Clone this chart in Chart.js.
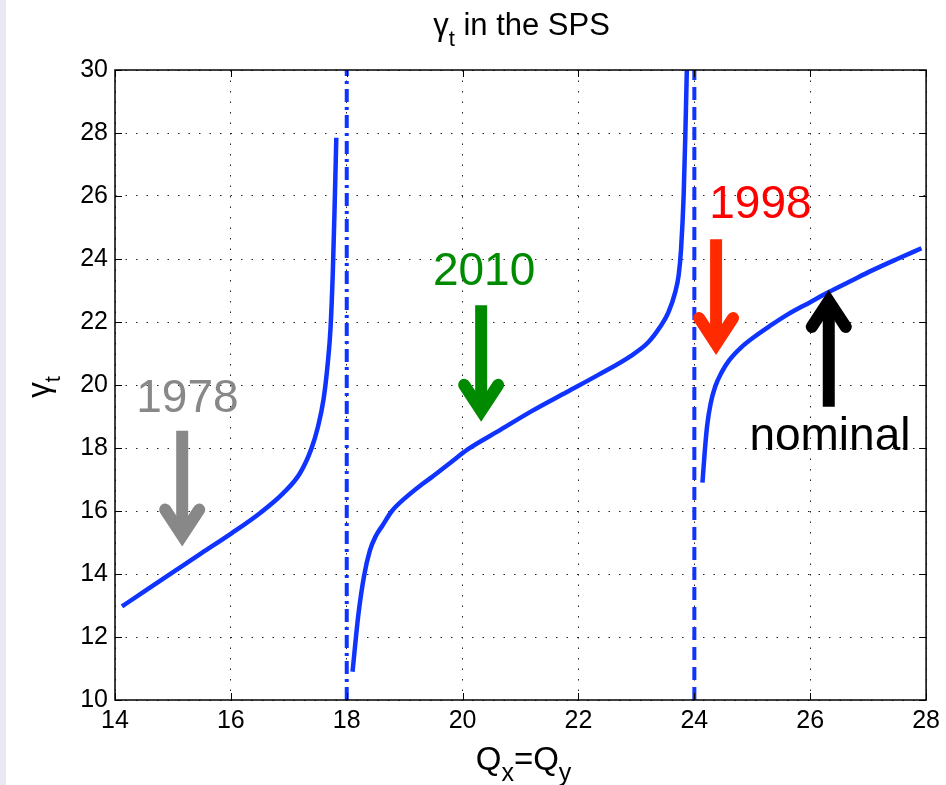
<!DOCTYPE html>
<html><head><meta charset="utf-8">
<script src="https://cdn.jsdelivr.net/npm/chart.js@4/dist/chart.umd.min.js"></script>
<style>html,body{margin:0;padding:0;background:#fff;overflow:hidden}canvas{display:block}</style>
</head><body>
<canvas id="c" width="946" height="785"></canvas>
<script>
// ---- data ----
const branch1Q = [14.12, 14.5, 15.06, 15.5, 16.01, 16.5, 16.9, 17.19, 17.39, 17.5, 17.6, 17.67, 17.72, 17.76, 17.79, 17.82];
const branch1G = [12.97, 13.44, 14.13, 14.67, 15.29, 15.93, 16.56, 17.19, 17.98, 18.65, 19.55, 20.65, 21.8, 23.6, 25.6, 27.85];
const branch2Q = [18.10, 18.2, 18.3, 18.4, 18.5, 18.62, 18.78, 19.0, 19.3, 19.5, 19.8, 20.1, 20.6, 21.2, 21.8, 22.35, 22.9, 23.2, 23.41, 23.55, 23.67, 23.73, 23.77, 23.815, 23.845, 23.87];
const branch2G = [10.9, 12.7, 13.95, 14.75, 15.2, 15.55, 16.0, 16.4, 16.85, 17.12, 17.55, 17.97, 18.52, 19.18, 19.78, 20.33, 20.92, 21.35, 21.85, 22.3, 22.95, 23.5, 24.3, 26.0, 28.0, 30.0];
const branch3Q = [24.14, 24.18, 24.22, 24.28, 24.36, 24.47, 24.6, 24.8, 25.05, 25.3, 25.62, 26.0, 26.32, 26.7, 27.06, 27.5, 27.92];
const branch3G = [16.9, 17.9, 18.7, 19.4, 19.95, 20.4, 20.78, 21.18, 21.55, 21.87, 22.25, 22.63, 22.95, 23.3, 23.63, 24.0, 24.34];
const resonanceQ = [18, 24];
const xTickValues = [14, 16, 18, 20, 22, 24, 26, 28];
const yTickValues = [10, 12, 14, 16, 18, 20, 22, 24, 26, 28, 30];

// annotations (data units)
const noteLabels = ['1978', '2010', '1998', 'nominal'];
const noteLabelQ = [15.25, 20.37, 25.14, 26.34];
const noteLabelG = [19.15, 23.17, 25.29, 17.94];
const arrowQ = [15.16, 20.32, 24.375, 26.32];
const arrowTailG = [18.55, 22.53, 24.63, 19.31];
const arrowTipG = [14.87, 18.83, 20.95, 23.02];

// ---- styles ----
const FONT = '"Liberation Sans", Arial, Helvetica, sans-serif';
const BLUE = '#1034ff';
const noteTextColors = ['#888888', '#008a00', '#ff0000', '#000000'];
const noteArrowColors = ['#888888', '#008a00', '#ff2a00', '#000000'];
const resonanceDash = [[13, 5, 3, 5], [13, 7]];

function pts(xs, ys) { return xs.map((x, i) => ({ x: x, y: ys[i] })); }

const datasets = [
  { data: pts(branch1Q, branch1G) },
  { data: pts(branch2Q, branch2G) },
  { data: pts(branch3Q, branch3G) }
].map(d => Object.assign(d, {
  showLine: true, borderColor: BLUE, borderWidth: 4.5, pointRadius: 0,
  cubicInterpolationMode: 'monotone', fill: false, borderJoinStyle: 'round', borderCapStyle: 'butt'
}));
resonanceQ.forEach((q, i) => datasets.push({
  data: [{ x: q, y: yTickValues[0] }, { x: q, y: yTickValues[yTickValues.length - 1] }],
  showLine: true, borderColor: BLUE, borderWidth: 4, pointRadius: 0,
  borderDash: resonanceDash[i], fill: false
}));

const decor = {
  id: 'decor',
  beforeDraw(chart) {
    const ctx = chart.ctx;
    ctx.save();
    ctx.fillStyle = '#ffffff';
    ctx.fillRect(0, 0, chart.width, chart.height);
    ctx.fillStyle = '#e9e9f3';
    ctx.fillRect(0, 0, 6, chart.height);
    ctx.restore();
  },
  afterDatasetsDraw(chart) {
    const ctx = chart.ctx;
    const xs = chart.scales.x, ys = chart.scales.y;
    const a = chart.chartArea;
    ctx.save();
    // inner tick marks
    ctx.strokeStyle = '#000';
    ctx.lineWidth = 1;
    xTickValues.forEach(v => {
      const p = Math.round(xs.getPixelForValue(v)) + 0.5;
      ctx.beginPath();
      ctx.moveTo(p, a.bottom); ctx.lineTo(p, a.bottom - 7);
      ctx.moveTo(p, a.top); ctx.lineTo(p, a.top + 7);
      ctx.stroke();
    });
    yTickValues.forEach(v => {
      const p = Math.round(ys.getPixelForValue(v)) + 0.5;
      ctx.beginPath();
      ctx.moveTo(a.left, p); ctx.lineTo(a.left + 7, p);
      ctx.moveTo(a.right, p); ctx.lineTo(a.right - 7, p);
      ctx.stroke();
    });
    // box
    ctx.lineWidth = 1.5;
    ctx.strokeRect(a.left, a.top, a.right - a.left, a.bottom - a.top);

    // arrows
    for (let i = 0; i < arrowQ.length; i++) {
      const x = xs.getPixelForValue(arrowQ[i]);
      const yT = ys.getPixelForValue(arrowTailG[i]);
      const yP = ys.getPixelForValue(arrowTipG[i]);
      const dir = yP > yT ? 1 : -1;
      const vertex = yP - dir * 11;
      ctx.strokeStyle = noteArrowColors[i];
      ctx.lineWidth = 12;
      ctx.lineCap = 'butt';
      ctx.beginPath();
      ctx.moveTo(x, yT);
      ctx.lineTo(x, vertex - dir * 4);
      ctx.stroke();
      ctx.lineCap = 'round';
      ctx.lineJoin = 'miter';
      ctx.miterLimit = 10;
      ctx.beginPath();
      ctx.moveTo(x - 17, vertex - dir * 26);
      ctx.lineTo(x, vertex);
      ctx.lineTo(x + 17, vertex - dir * 26);
      ctx.stroke();
    }
    // labels
    ctx.font = '46px ' + FONT;
    ctx.textAlign = 'center';
    ctx.textBaseline = 'alphabetic';
    for (let i = 0; i < noteLabels.length; i++) {
      ctx.fillStyle = noteTextColors[i];
      ctx.fillText(noteLabels[i], xs.getPixelForValue(noteLabelQ[i]), ys.getPixelForValue(noteLabelG[i]));
    }

    // title  γ_t in the SPS
    ctx.fillStyle = '#000';
    const mid = (a.left + a.right) / 2;
    drawRich(ctx, [['γ', 31, 0], ['t', 22, 11], [' in the SPS', 31, 0]], mid + 1, 35);
    // x label Q_x=Q_y
    drawRich(ctx, [['Q', 33, 0], ['x', 25, 11], ['=Q', 33, 0], ['y', 25, 11]], mid + 3, 770);
    // y label γ_t (rotated)
    ctx.save();
    ctx.translate(49, (a.top + a.bottom) / 2 + 2);
    ctx.rotate(-Math.PI / 2);
    drawRich(ctx, [['γ', 31, 0], ['t', 22, 11]], 0, 0);
    ctx.restore();
    ctx.restore();
  }
};

function drawRich(ctx, parts, cx, baseline) {
  let total = 0;
  parts.forEach(p => { ctx.font = p[1] + 'px ' + FONT; total += ctx.measureText(p[0]).width; });
  let x = cx - total / 2;
  ctx.textAlign = 'left';
  ctx.textBaseline = 'alphabetic';
  parts.forEach(p => {
    ctx.font = p[1] + 'px ' + FONT;
    ctx.fillText(p[0], x, baseline + p[2]);
    x += ctx.measureText(p[0]).width;
  });
}

new Chart(document.getElementById('c'), {
  type: 'scatter',
  data: { datasets: datasets },
  options: {
    responsive: false,
    animation: false,
    devicePixelRatio: 1,
    layout: { padding: { top: 70, right: 18, bottom: 0, left: 0 } },
    plugins: { legend: { display: false }, title: { display: false }, tooltip: { enabled: false } },
    scales: {
      x: {
        type: 'linear', min: 14, max: 28,
        afterFit(s) { s.height = 85; },
        afterBuildTicks(s) { s.ticks = xTickValues.map(v => ({ value: v })); },
        ticks: { font: { family: FONT, size: 25 }, color: '#000', padding: 6, maxRotation: 0 },
        grid: { color: '#222', lineWidth: 1, drawTicks: false },
        border: { display: false, dash: [1.5, 9] }
      },
      y: {
        type: 'linear', min: 10, max: 30,
        afterFit(s) { s.width = 115; },
        afterBuildTicks(s) { s.ticks = yTickValues.map(v => ({ value: v })); },
        ticks: { font: { family: FONT, size: 25 }, color: '#000', padding: 7 },
        grid: { color: '#222', lineWidth: 1, drawTicks: false },
        border: { display: false, dash: [1.5, 9] }
      }
    }
  },
  plugins: [decor]
});
</script>
</body></html>
